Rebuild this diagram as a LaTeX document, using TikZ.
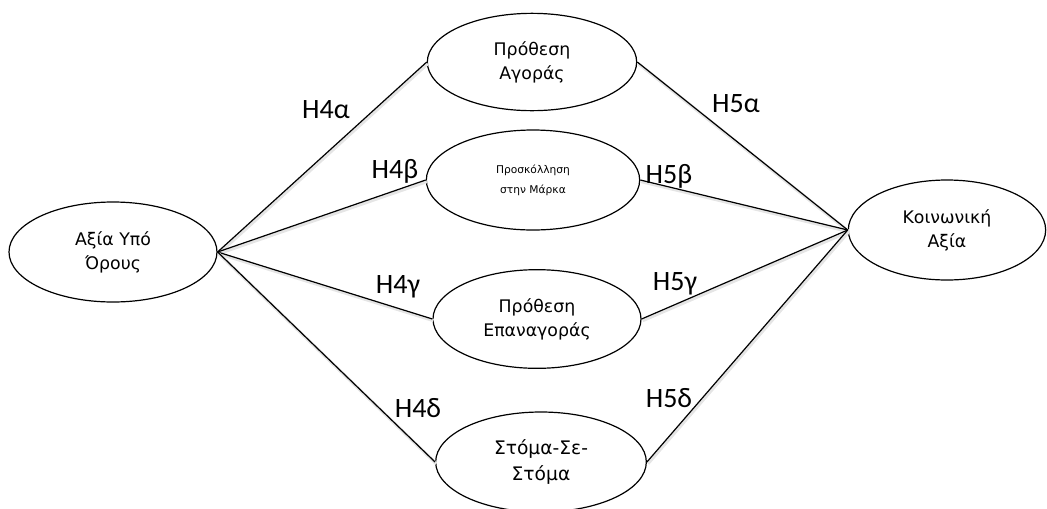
\documentclass[tikz,border=0pt]{standalone}
\usepackage{fontspec}
\setmainfont{DejaVu Sans}
\newfontfamily\hypfont{Carlito}
\usetikzlibrary{shapes.geometric}

\begin{document}
\begin{tikzpicture}[x=0.75pt,y=-0.75pt]

\tikzstyle{every node}=[font=\fontsize{13}{18}\selectfont]
\tikzstyle{construct}=[ellipse, draw, line width=0.9pt, inner sep=0pt, align=center]
\tikzstyle{hyp}=[anchor=base, inner sep=0pt, font=\hypfont\fontsize{21}{21}\selectfont]
\tikzstyle{link}=[line width=0.9pt,
	preaction={draw=black!10, line width=2.4pt, transform canvas={xshift=0.8pt, yshift=-1.2pt}}]

\useasboundingbox (0,0) rectangle (1047,508);

% constructs
\node (agv) at (113,252) [construct, minimum width=156pt, minimum height=75pt] 
	{Αξία Υπό\\Όρους};
\node (pa) at (532,62) [construct, minimum width=157pt, minimum height=73pt] 
	{Πρόθεση\\Αγοράς};
\node (pm) at (533,180) [construct, minimum width=160pt, minimum height=75pt, 
	font=\fontsize{8}{15}\selectfont] 
	{Προσκόλληση\\στην Μάρκα};
\node (pe) at (537,319) [construct, minimum width=156pt, minimum height=74pt] 
	{Πρόθεση\\Επαναγοράς};
\node (ss) at (541,462) [construct, minimum width=158pt, minimum height=75pt, 
	font=\fontsize{14}{19}\selectfont] 
	{Στόμα-Σε-\\Στόμα};
\node (ka) at (947,230) [construct, minimum width=148pt, minimum height=75pt] 
	{Κοινωνική\\Αξία};

% paths
\draw[link] (agv.east) -- (pa.west);
\draw[link] (agv.east) -- (pm.west);
\draw[link] (agv.east) -- (pe.west);
\draw[link] (agv.east) -- (ss.west);
\draw[link] (pa.east) -- (ka.west);
\draw[link] (pm.east) -- (ka.west);
\draw[link] (pe.east) -- (ka.west);
\draw[link] (ss.east) -- (ka.west);

% hypotheses
\node (h4a) at (326,118) [hyp] {H4α};
\node (h4b) at (395,178) [hyp] {H4β};
\node (h4c) at (398,293) [hyp] {H4γ};
\node (h4d) at (418,417) [hyp] {H4δ};
\node (h5a) at (736,112) [hyp] {H5α};
\node (h5b) at (669,183) [hyp] {H5β};
\node (h5c) at (675,290) [hyp] {H5γ};
\node (h5d) at (669,407) [hyp] {H5δ};

\end{tikzpicture}
\end{document}
